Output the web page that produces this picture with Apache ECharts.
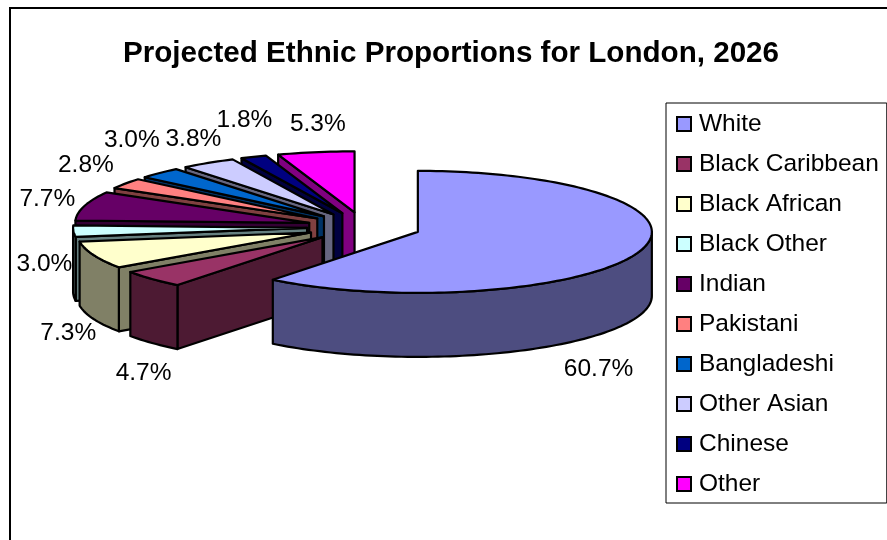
<!DOCTYPE html>
<html><head><meta charset="utf-8">
<style>html,body{margin:0;padding:0;background:#fff}#c{width:887px;height:540px}</style>
<script src="https://cdn.jsdelivr.net/npm/echarts@6/dist/echarts.min.js"></script>
</head><body><div id="c"></div>
<script>
const categories = ['White','Black Caribbean','Black African','Black Other','Indian','Pakistani','Bangladeshi','Other Asian','Chinese','Other'];
const values = [60.7,4.7,7.3,3.0,7.7,2.8,3.0,3.8,1.8,5.3];
const colors = ['#9999FF','#993366','#FFFFCC','#CCFFFF','#660066','#FF8080','#0066CC','#CCCCFF','#000080','#FF00FF'];

// Layout of the exploded, tilted pie
const pie = {cx:364, cy:227, rx:234, ry:61, depth:64, explode:57};
const labelGap = {x:24, y:18};
const labelNudge = [[-63,47],[9,18],[-3,8],[-5,-32],[-14,-2],[-20,-8],[-11,-20],[-2,-8],[0,-20],[6,-10]];

const total = values.reduce((a,b)=>a+b,0);
const rad = d => d*Math.PI/180;
function shade(hex){
  const n = parseInt(hex.slice(1),16);
  const f = v => Math.round(v*0.5);
  return `rgb(${f(n>>16&255)},${f(n>>8&255)},${f(n&255)})`;
}
function makeRender(i, start, end){
  return function(){
    const mid = (start+end)/2;
    const ex = pie.cx + pie.explode*Math.sin(rad(mid));
    const ey = pie.cy - pie.explode*(pie.ry/pie.rx)*Math.cos(rad(mid));
    const pt = (a,dy=0) => [ex+pie.rx*Math.sin(rad(a)), ey-pie.ry*Math.cos(rad(a))+dy];
    const arc = (a,b,dy=0) => {
      const out=[], n=Math.max(2,Math.ceil((b-a)/1.5));
      for(let k=0;k<=n;k++) out.push(pt(a+(b-a)*k/n,dy));
      return out;
    };
    const stroke = {stroke:'#000', lineWidth:2.2, lineJoin:'round'};
    const wallStyle = Object.assign({fill:shade(colors[i])},stroke);
    const topStyle = Object.assign({fill:colors[i]},stroke);
    const children=[];
    const radialWall = a => ({type:'polygon',shape:{points:[[ex,ey],pt(a),pt(a,pie.depth),[ex,ey+pie.depth]]},style:wallStyle});
    // hidden walls are never drawn: only faces turned towards the viewer
    if(Math.sin(rad(end))>1e-6) children.push(radialWall(end));
    if(Math.sin(rad(start))<-1e-6) children.push(radialWall(start));
    const a0=Math.max(start,90), b0=Math.min(end,270);
    if(b0>a0){
      children.push({type:'polygon',shape:{points:arc(a0,b0).concat(arc(a0,b0,pie.depth).reverse())},style:wallStyle});
    }
    children.push({type:'polygon',shape:{points:[[ex,ey]].concat(arc(start,end))},style:topStyle});
    const cm=Math.cos(rad(mid)), sm=Math.sin(rad(mid));
    const lx = ex+(pie.rx+labelGap.x)*sm+labelNudge[i][0];
    const ly = ey-(pie.ry+labelGap.y)*cm+(cm<0?pie.depth:0)+labelNudge[i][1];
    children.push({type:'text',x:lx,y:ly,style:{text:values[i].toFixed(1)+'%',fill:'#000',font:'24.5px "Liberation Sans"',align:'center',verticalAlign:'middle'}});
    return {type:'group',children};
  };
}
let cum=0;
const slices = values.map((v,i)=>{const s=cum/total*360; cum+=v; return {i,s,e:cum/total*360};});
const series = slices.slice().reverse().map(o=>({
  type:'custom', name:categories[o.i], coordinateSystem:'none', silent:true, animation:false,
  itemStyle:{color:colors[o.i]}, data:[[values[o.i]]], renderItem:makeRender(o.i,o.s,o.e)
}));
const chart = echarts.init(document.getElementById('c'),null,{renderer:'canvas'});
chart.setOption({
  animation:false, backgroundColor:'#fff',
  title:{text:'Projected Ethnic Proportions for London, 2026',left:446,top:34,textAlign:'center',
    textStyle:{fontFamily:'Liberation Sans',fontWeight:'bold',fontSize:29.6,color:'#000'}},
  legend:{orient:'vertical',left:666,top:103,data:categories,icon:'rect',itemWidth:14,itemHeight:14,itemGap:14,
    padding:[8,8,6,10],backgroundColor:'#fff',borderColor:'#000',borderWidth:1,selectedMode:false,
    textStyle:{fontFamily:'Liberation Sans',fontSize:24.5,color:'#000',padding:[0,0,0,3],lineHeight:26},
    itemStyle:{borderColor:'#000',borderWidth:2}},
  graphic:[{type:'rect',shape:{x:10,y:8,width:1000,height:700},style:{fill:null,stroke:'#000',lineWidth:2},silent:true}],
  series
});
</script></body></html>
